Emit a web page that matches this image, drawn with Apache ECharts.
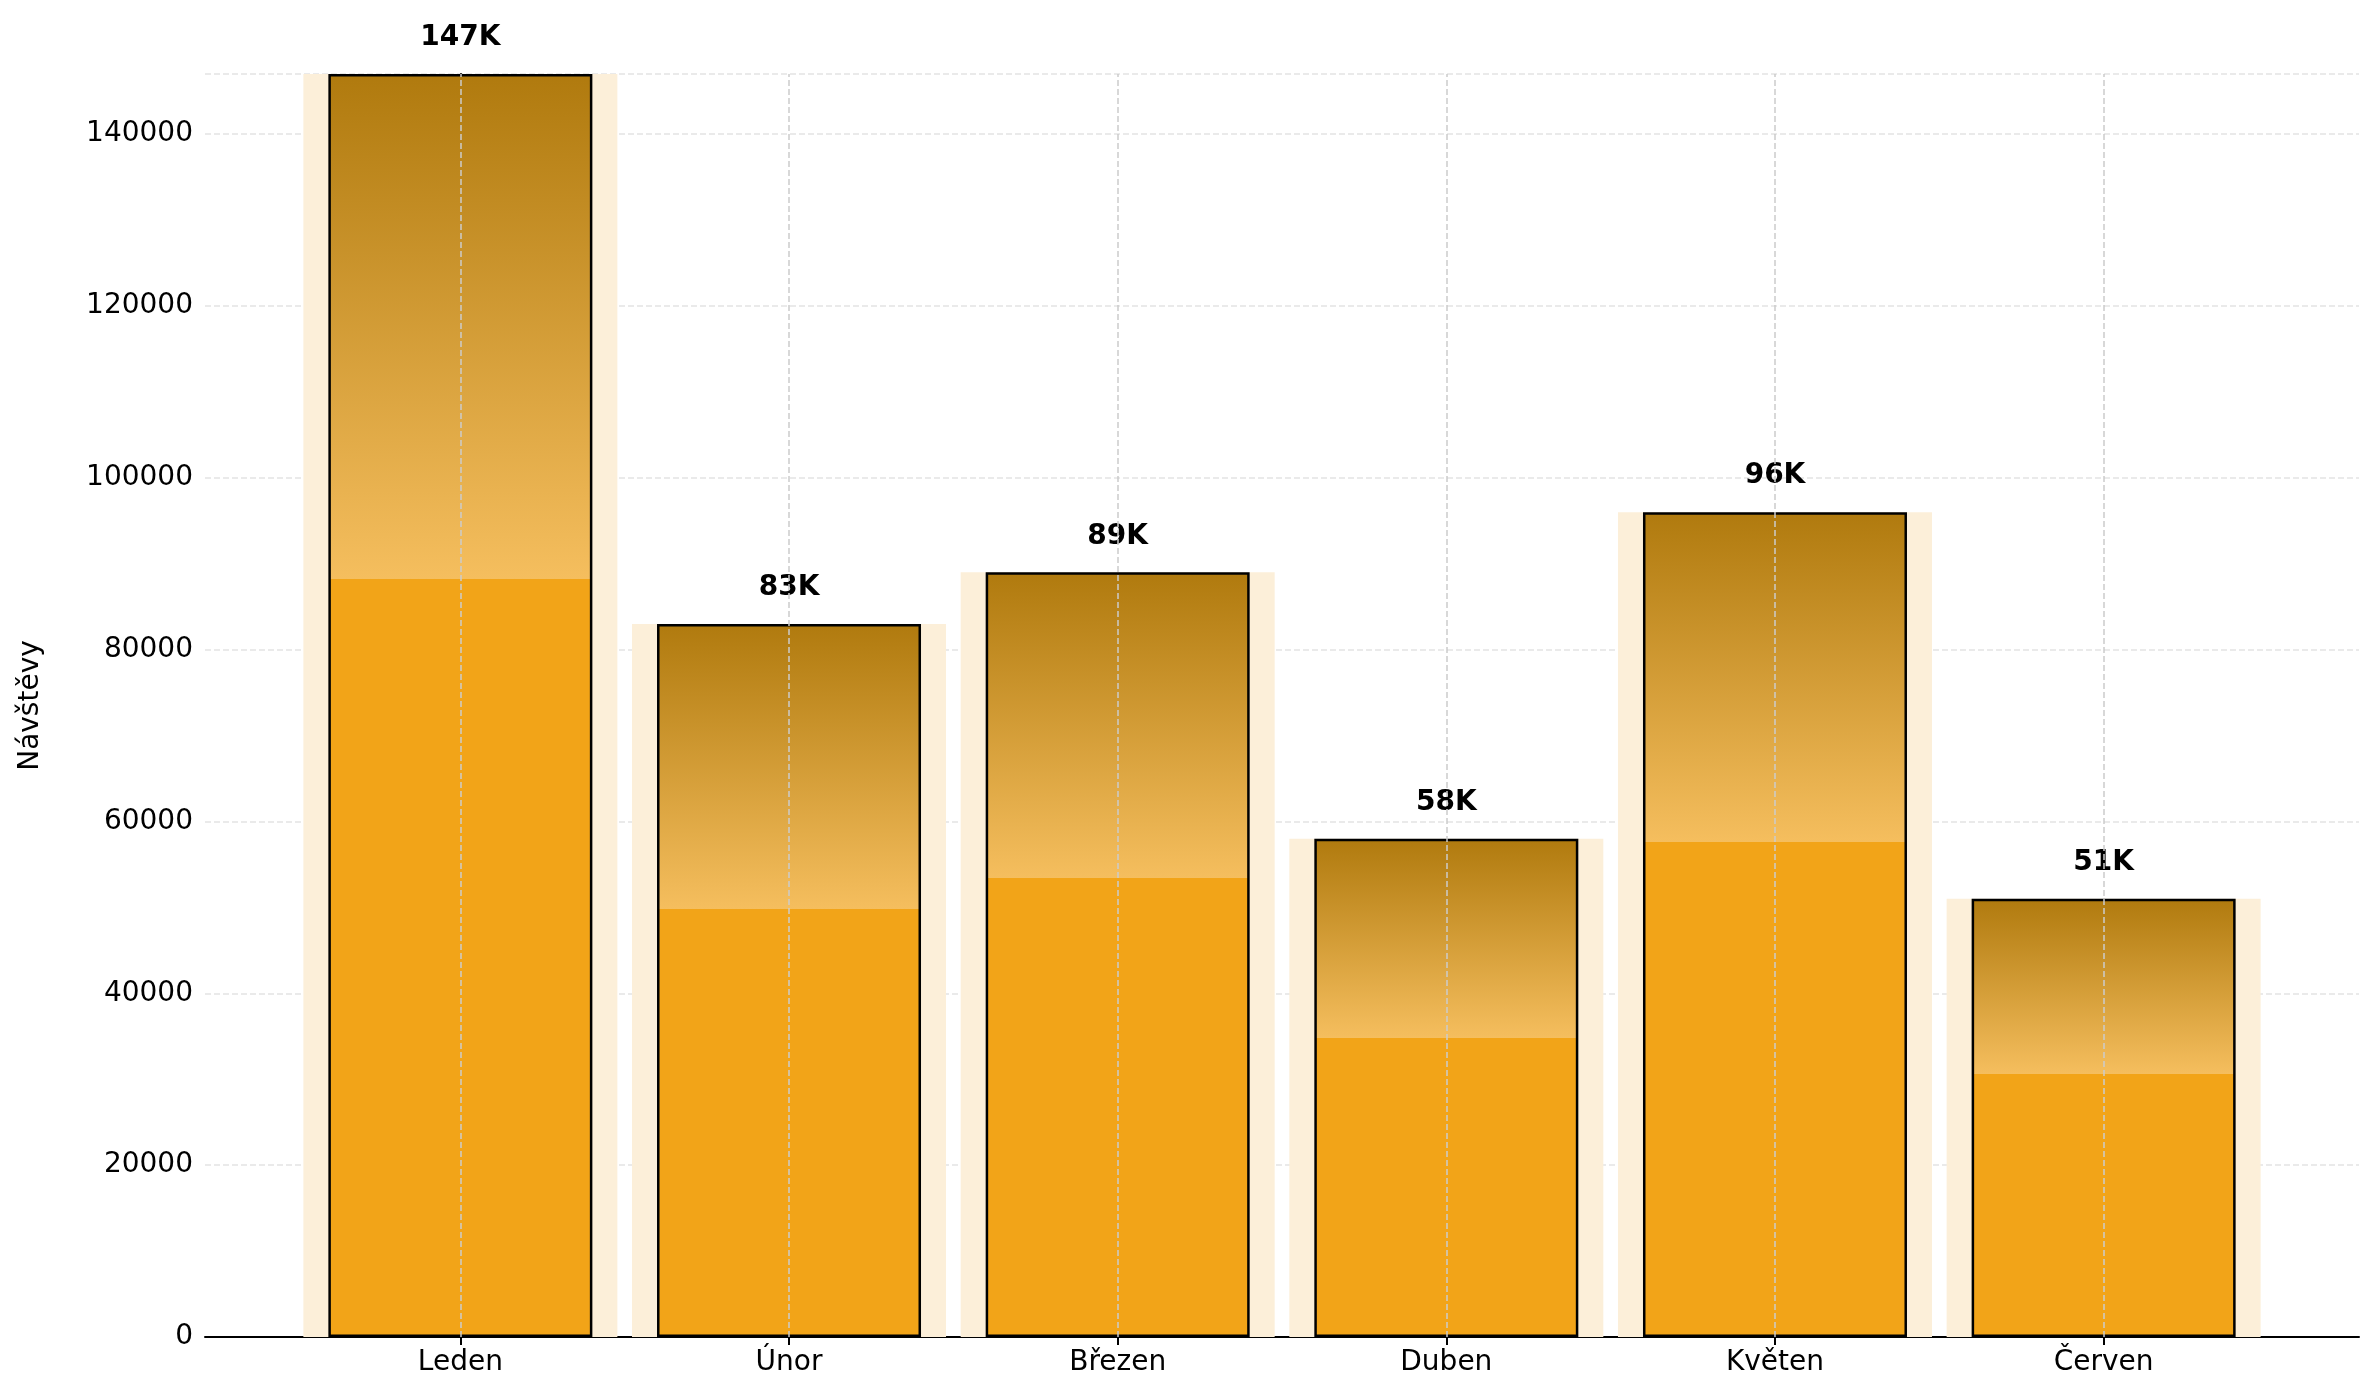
<!DOCTYPE html>
<html><head><meta charset="utf-8">
<script src="https://cdn.jsdelivr.net/npm/echarts@6/dist/echarts.min.js"></script>
<style>html,body{margin:0;background:#fff}#c{width:2379px;height:1383px}</style>
</head><body><div id="c"></div>
<script>
const categories = ['Leden','Únor','Březen','Duben','Květen','Červen'];
const visits = [147000, 83000, 89000, 58000, 96000, 51000];
const labels = ['147K','83K','89K','58K','96K','51K'];
const yTicks = [0,20000,40000,60000,80000,100000,120000,140000];
const font = 'DejaVu Sans';
const pts = visits.map((v,i)=>[i,v]);
const grad = {type:'linear',x:0,y:0,x2:0,y2:1,colorStops:[
  {offset:0,color:'#B07A0E'},{offset:0.4,color:'#F5BE5E'},{offset:0.4,color:'#F2A418'},{offset:1,color:'#F2A418'}]};
const xBase = {type:'value',min:-0.777,max:5.777};
const chart = echarts.init(document.getElementById('c'));
chart.setOption({
  animation:false,
  grid:{left:205,right:20,top:74,bottom:46},
  xAxis:[
    Object.assign({},xBase,{axisLine:{show:true,onZero:false,lineStyle:{color:'#000',width:2}},
     axisTick:{show:true,customValues:[0,1,2,3,4,5],length:8,lineStyle:{color:'#000',width:2}},
     axisLabel:{customValues:[0,1,2,3,4,5],formatter:(v)=>categories[Math.round(v)],color:'#000',fontSize:28,fontFamily:font,margin:12},
     splitLine:{show:false}}),
    Object.assign({},xBase,{show:false,splitLine:{show:false}})
  ],
  yAxis:{type:'value',min:0,max:147000,interval:20000,name:'Návštěvy',nameLocation:'middle',nameGap:160,
    nameTextStyle:{color:'#000',fontSize:28,fontFamily:font},
    axisLine:{show:true,lineStyle:{color:'#000',width:2}},axisTick:{show:true,length:8,lineStyle:{color:'#000',width:2}},
    axisLabel:{color:'#000',fontSize:28,fontFamily:font,margin:12,showMaxLabel:false,formatter:(v)=>String(v)},
    splitLine:{lineStyle:{type:'dashed',color:'#e3e3e3',width:1.5}}},
  series:[
    {type:'bar',xAxisIndex:1,data:pts,barWidth:314,itemStyle:{color:'#FCEFD9'},silent:true,z:1,
     markLine:{silent:true,symbol:'none',label:{show:false},lineStyle:{type:'dashed',color:'#cccccc',width:1.5},
       data:[0,1,2,3,4,5].map(i=>({xAxis:i}))}},
    {type:'bar',xAxisIndex:0,data:pts,barWidth:264,z:2,
     itemStyle:{color:grad,borderColor:'#000',borderWidth:2.5},
     label:{show:true,position:'top',distance:22,formatter:(p)=>labels[p.dataIndex],color:'#000',fontSize:28,fontWeight:'bold',fontFamily:font}}
  ]
});
</script></body></html>
